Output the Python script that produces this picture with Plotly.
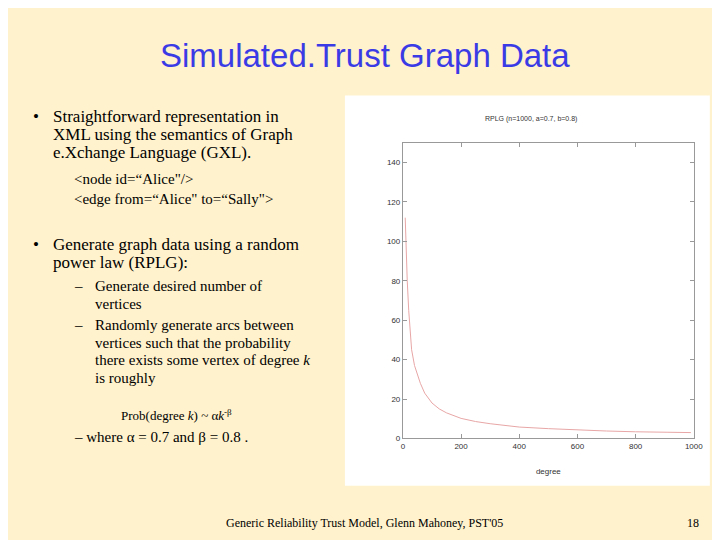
import plotly.graph_objects as go

degree = [8, 10, 15, 20, 25, 30, 40, 50, 60, 75, 100, 125, 150, 200, 250, 300, 350, 400, 500, 600, 700, 800, 900, 990]
count = [112, 100, 80, 65, 52, 45, 37, 32, 28, 23, 18, 15, 13, 10.2, 8.6, 7.5, 6.6, 5.8, 5.0, 4.3, 3.8, 3.4, 3.2, 3.0]
xticks = [0, 200, 400, 600, 800, 1000]
yticks = [0, 20, 40, 60, 80, 100, 120, 140]

W, H = 720, 540
def cx(v): return (v - 5) / 0.985
def px(x): return cx(x) / W
def py(y): return 1 - cx(y) / H

fig = go.Figure()
fig.add_trace(go.Scatter(x=degree, y=count, mode="lines", line=dict(color="#E8A6A6", width=1), showlegend=False))

ax = dict(showline=True, mirror="ticks", linecolor="#999", linewidth=1, ticks="inside", ticklen=4,
          tickcolor="#999", showgrid=False, zeroline=False, tickfont=dict(family="Liberation Sans", size=8, color="#333"))
fig.update_layout(
    width=W, height=H, margin=dict(l=0, r=0, t=0, b=0),
    paper_bgcolor="#FFF2CC", plot_bgcolor="white",
    xaxis=dict(range=[0, 1000], tickvals=xticks, domain=[px(398), px(689)],
               title=dict(text="degree", font=dict(size=8, family="Liberation Sans", color="#333"), standoff=18), **ax),
    yaxis=dict(range=[0, 150], tickvals=yticks, domain=[py(433), py(139)], **ax),
)
fig.add_shape(type="rect", xref="paper", yref="paper", x0=px(340), x1=px(705), y0=py(480), y1=py(92),
              fillcolor="white", line=dict(width=0), layer="below")

def t(x, y, s, size=17, anchor="left", color="black", fam="Liberation Serif"):
    fig.add_annotation(x=px(x), y=py(y), xref="paper", yref="paper", text=s, showarrow=False,
                       xanchor=anchor, yanchor="middle", font=dict(family=fam, size=size, color=color))

t(360, 52, "Simulated.Trust Graph Data", 33, "center", "#3B3BE6", "Liberation Sans")
t(478, 115, "RPLG (n=1000, a=0.7, b=0.8)", 7, "left", "#333", "Liberation Sans")
t(26, 113, "•"); t(46, 113, "Straightforward representation in")
t(46, 131, "XML using the semantics of Graph")
t(46, 149, "e.Xchange Language (GXL).")
t(67, 175, "&lt;node id=“Alice\"/&gt;", 15)
t(67, 195, "&lt;edge from=“Alice\" to=“Sally\"&gt;", 15)
t(26, 240, "•"); t(46, 240, "Generate graph data using a random")
t(46, 258, "power law (RPLG):")
t(67, 281, "–", 15); t(88, 281, "Generate desired number of", 15)
t(88, 299, "vertices", 15)
t(67, 320, "–", 15); t(88, 320, "Randomly generate arcs between", 15)
t(88, 338, "vertices such that the probability", 15)
t(88, 355, "there exists some vertex of degree <i>k</i>", 15)
t(88, 373, "is roughly", 15)
t(114, 410, "Prob(degree <i>k</i>) ~ α<i>k</i><sup>-β</sup>", 13)
t(67, 432, "– where α = 0.7 and β = 0.8 .", 15)
t(360, 517, "Generic Reliability Trust Model, Glenn Mahoney, PST'05", 12, "center")
t(688, 517, "18", 12, "center")

fig.write_html("out.html")
